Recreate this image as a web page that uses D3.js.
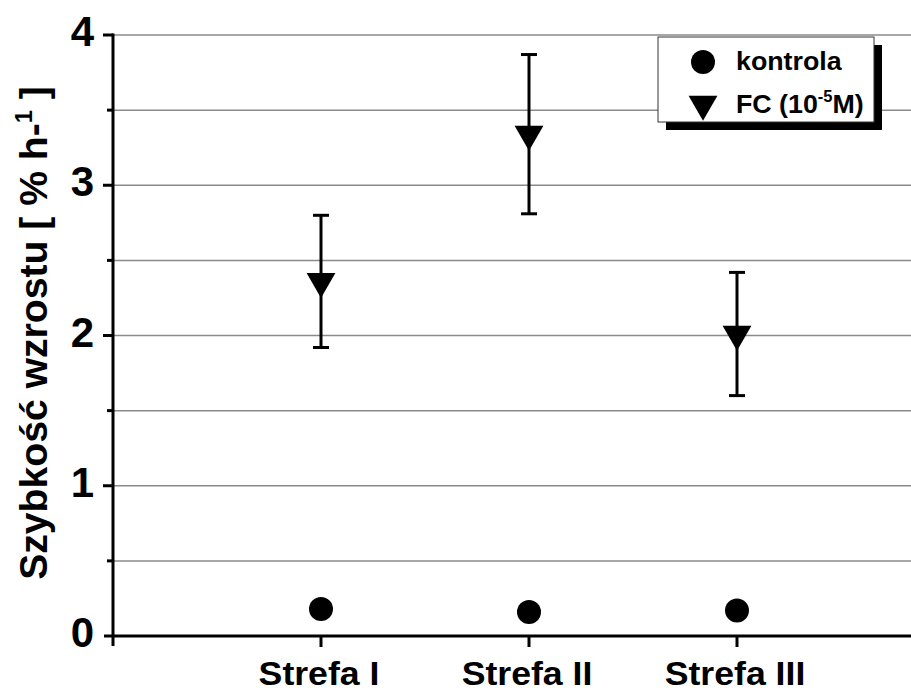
<!DOCTYPE html>
<html>
<head>
<meta charset="utf-8">
<script src="https://cdn.jsdelivr.net/npm/d3@7"></script>
<style>
  html, body { margin: 0; padding: 0; background: #fff; }
  svg { display: block; }
  text { font-family: "Liberation Sans", Arial, sans-serif; font-weight: bold; fill: #000; }
</style>
</head>
<body>
<svg id="chart" width="911" height="691"></svg>
<script>
// Growth rate by zone: control vs FC treatment
const categories = ["Strefa I", "Strefa II", "Strefa III"];
const kontrola = [0.18, 0.16, 0.17];
const fc = [2.36, 3.34, 2.01];
const fcErr = [0.44, 0.53, 0.41];
const yTicks = [0, 1, 2, 3, 4];
const yMinorTicks = [0.5, 1.5, 2.5, 3.5];

const W = 911, H = 691;
const svg = d3.select("#chart");

// category positions 1..3 on a linear scale
const x = d3.scaleLinear().domain([0, 4]).range([113, 945]);
const y = d3.scaleLinear().domain([0, 4]).range([636, 35]);
const xRight = W;

function label(g, tx, ty, fontSize, anchor, sx) {
  return g.append("text")
    .attr("transform", `translate(${tx},${ty}) scale(${sx},1)`)
    .attr("font-size", fontSize)
    .attr("text-anchor", anchor);
}

// horizontal grid lines at every half unit
const gridVals = yTicks.concat(yMinorTicks).filter(v => v > 0);
svg.append("g").selectAll("line").data(gridVals).join("line")
  .attr("x1", x(0)).attr("x2", xRight)
  .attr("y1", d => y(d)).attr("y2", d => y(d))
  .attr("stroke", "#8a8a8a").attr("stroke-width", 1.5);

// axes
const axis = svg.append("g").attr("stroke", "#000").attr("stroke-width", 3);
axis.append("line").attr("x1", x(0)).attr("x2", x(0)).attr("y1", y(4) - 1.5).attr("y2", y(0) + 10);
axis.append("line").attr("x1", x(0) - 9).attr("x2", xRight).attr("y1", y(0)).attr("y2", y(0));
axis.selectAll(".maj").data(yTicks.filter(v => v > 0)).join("line")
  .attr("x1", x(0) - 10).attr("x2", x(0)).attr("y1", d => y(d)).attr("y2", d => y(d));
axis.selectAll(".min").data(yMinorTicks).join("line")
  .attr("x1", x(0) - 6).attr("x2", x(0)).attr("y1", d => y(d)).attr("y2", d => y(d));
axis.selectAll(".xt").data(categories).join("line")
  .attr("x1", (d, i) => x(i + 1)).attr("x2", (d, i) => x(i + 1))
  .attr("y1", y(0)).attr("y2", y(0) + 11);

// tick labels
const tl = svg.append("g");
yTicks.forEach(v => {
  label(tl, 94, y(v) + 11, 42, "end", 1).text(v);
});
categories.forEach((c, i) => {
  label(tl, x(i + 1) - 2, 685, 33, "middle", 1.08).text(c);
});

// y-axis title
const yt = svg.append("text")
  .attr("transform", `translate(47,333) rotate(-90) scale(1.03,1)`)
  .attr("font-size", 38).attr("text-anchor", "middle");
yt.append("tspan").text("Szybkość wzrostu [ % h-");
yt.append("tspan").attr("font-size", 23).attr("dy", -15).text("1");
yt.append("tspan").attr("dy", 15).text(" ]");

// error bars for FC
const eb = svg.append("g").attr("stroke", "#000").attr("stroke-width", 3);
fc.forEach((v, i) => {
  const cx = x(i + 1);
  eb.append("line").attr("x1", cx).attr("x2", cx).attr("y1", y(v + fcErr[i])).attr("y2", y(v - fcErr[i]));
  eb.append("line").attr("x1", cx - 8).attr("x2", cx + 8).attr("y1", y(v + fcErr[i])).attr("y2", y(v + fcErr[i]));
  eb.append("line").attr("x1", cx - 8).attr("x2", cx + 8).attr("y1", y(v - fcErr[i])).attr("y2", y(v - fcErr[i]));
});

// markers
const tri = d3.symbol().type(d3.symbolTriangle).size(360);
svg.append("g").selectAll("path").data(fc).join("path")
  .attr("d", tri)
  .attr("transform", (d, i) => `translate(${x(i + 1)},${y(d)}) rotate(180)`)
  .attr("fill", "#000");
svg.append("g").selectAll("circle").data(kontrola).join("circle")
  .attr("cx", (d, i) => x(i + 1)).attr("cy", d => y(d)).attr("r", 12)
  .attr("fill", "#000");

// legend with drop shadow
const lg = svg.append("g").attr("transform", "translate(658,37)");
lg.append("rect").attr("x", 8).attr("y", 8).attr("width", 216).attr("height", 85).attr("fill", "#000");
lg.append("rect").attr("x", 0).attr("y", 0).attr("width", 216).attr("height", 85)
  .attr("fill", "#fff").attr("stroke", "#333").attr("stroke-width", 1);
lg.append("circle").attr("cx", 45).attr("cy", 25).attr("r", 12).attr("fill", "#000");
lg.append("path").attr("d", tri).attr("transform", "translate(45,67) rotate(180)").attr("fill", "#000");
label(lg, 78, 33, 26, "start", 1.03).text("kontrola");
const fcT = label(lg, 78, 76, 26, "start", 1.03);
fcT.append("tspan").text("FC (10");
fcT.append("tspan").attr("font-size", 16).attr("dy", -11).text("-5");
fcT.append("tspan").attr("dy", 11).text("M)");
</script>
</body>
</html>
